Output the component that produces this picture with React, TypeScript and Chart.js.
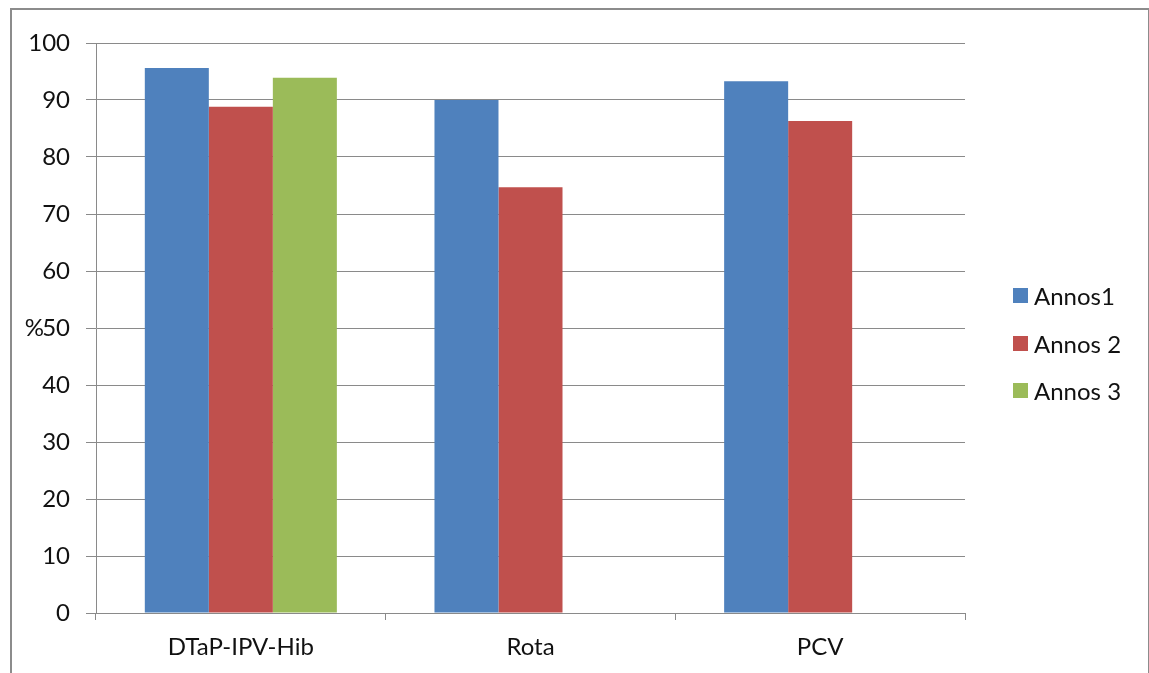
import React, { useEffect, useRef } from "react";
import { Chart, registerables } from "chart.js";

Chart.register(...registerables);

const categories = ["DTaP-IPV-Hib", "Rota", "PCV"];
const seriesNames = ["Annos1", "Annos 2", "Annos 3"];
const annos1 = [95.6, 90.0, 93.3];
const annos2 = [88.8, 74.7, 86.3];
const annos3: (number | null)[] = [93.9, null, null];
const seriesColors = ["#4F81BD", "#C0504D", "#9BBB59"];
const yTicks = [0, 10, 20, 30, 40, 50, 60, 70, 80, 90, 100];

const FONT = "Lato, 'Open Sans', sans-serif";
const FS = 24;

const percentPlugin = {
  id: "percentLabel",
  afterDraw(chart: any) {
    const y = chart.scales.y;
    const ctx = chart.ctx;
    ctx.save();
    ctx.font = `${FS}px ${FONT}`;
    ctx.fillStyle = "#111";
    ctx.textAlign = "right";
    ctx.textBaseline = "middle";
    ctx.fillText("%", 44, y.getPixelForValue(50));
    ctx.restore();
  },
};

export default function App() {
  const ref = useRef<HTMLCanvasElement | null>(null);

  useEffect(() => {
    if (!ref.current) return;
    const data = [annos1, annos2, annos3];
    const chart = new Chart(ref.current, {
      type: "bar",
      data: {
        labels: categories,
        datasets: seriesNames.map((name, i) => ({
          label: name,
          data: data[i],
          backgroundColor: seriesColors[i],
          borderWidth: 0,
          categoryPercentage: 0.663,
          barPercentage: 1,
        })),
      },
      plugins: [percentPlugin],
      options: {
        responsive: false,
        animation: false,
        layout: { padding: { left: 0, top: 43, right: 184, bottom: 0 } },
        plugins: {
          legend: { display: false },
          tooltip: { enabled: false },
        },
        scales: {
          x: {
            grid: {
              drawOnChartArea: false,
              drawTicks: true,
              tickLength: 7,
              color: "#8a8a8a",
              offset: true,
            },
            border: { color: "#8a8a8a", width: 1 },
            ticks: {
              font: { family: FONT, size: FS },
              color: "#111",
              padding: 13,
            },
            afterFit(scale: any) {
              scale.height = 60;
            },
          },
          y: {
            min: 0,
            max: 100,
            afterBuildTicks(scale: any) {
              scale.ticks = yTicks.map((v) => ({ value: v }));
            },
            grid: {
              color: "#8a8a8a",
              tickLength: 10,
              drawTicks: true,
            },
            border: { color: "#8a8a8a", width: 1 },
            ticks: {
              font: { family: FONT, size: FS },
              color: "#111",
              padding: 16,
            },
            afterFit(scale: any) {
              scale.width = 96;
            },
          },
        },
      },
    });
    return () => chart.destroy();
  }, []);

  return (
    <div style={{ position: "absolute", left: 0, top: 0, width: 1149, height: 673, overflow: "hidden", background: "#fff" }}>
      <div
        style={{
          position: "absolute",
          left: 10,
          top: 8,
          width: 1136,
          height: 700,
          border: "2px solid #8c8c8c",
        }}
      />
      <canvas ref={ref} width={1149} height={673} style={{ position: "absolute", left: 0, top: 0, width: 1149, height: 673 }} />
      <div style={{ position: "absolute", left: 1013, top: 272, fontFamily: FONT, fontSize: FS, color: "#111" }}>
        {seriesNames.map((name, i) => (
          <div key={name} style={{ display: "flex", alignItems: "center", height: 47.5 }}>
            <span style={{ display: "inline-block", width: 15, height: 15, background: seriesColors[i], marginRight: 6 }} />
            <span>{name}</span>
          </div>
        ))}
      </div>
    </div>
  );
}
